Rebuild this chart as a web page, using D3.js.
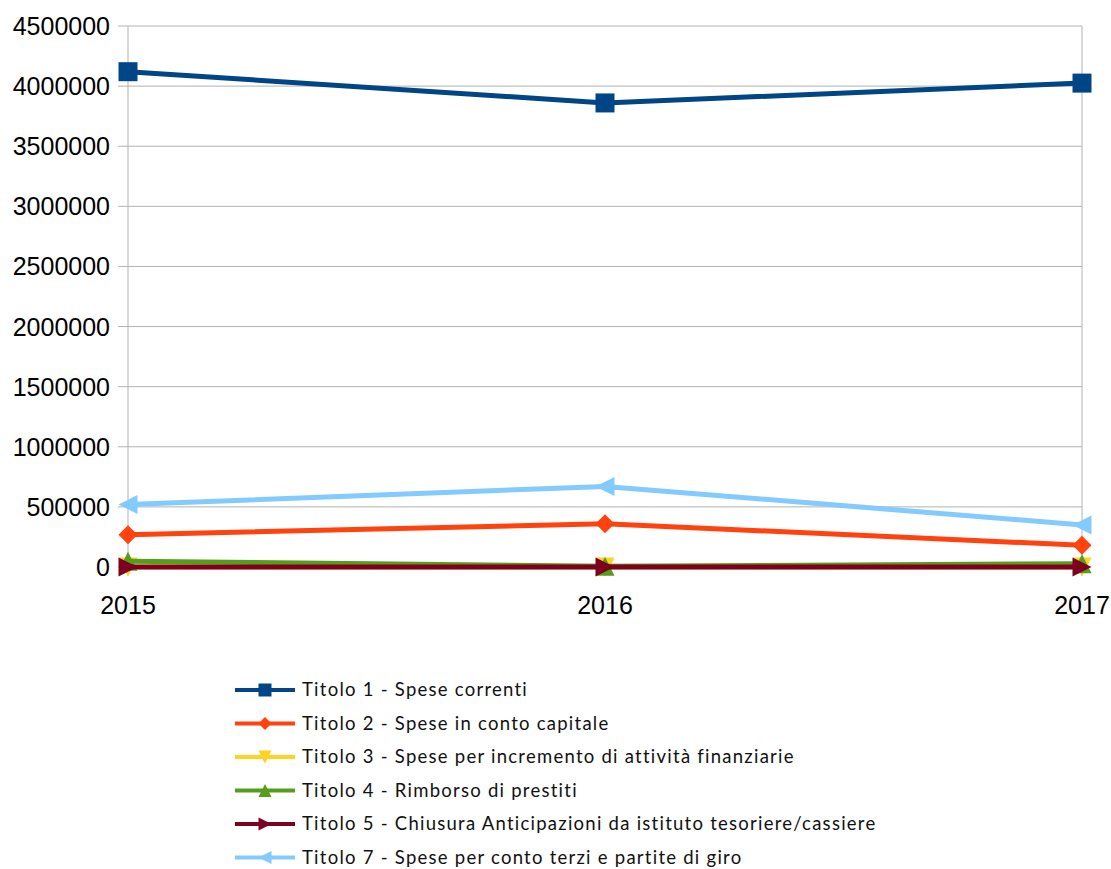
<!DOCTYPE html>
<html><head><meta charset="utf-8">
<script src="https://cdn.jsdelivr.net/npm/d3@7"></script>
<style>body{margin:0;background:#fff}svg{display:block}</style>
</head><body>
<svg id="c" width="1111" height="869"></svg>
<script>
const years = ["2015","2016","2017"];
const yTicks = [0,500000,1000000,1500000,2000000,2500000,3000000,3500000,4000000,4500000];
const seriesNames = [
  "Titolo 1 - Spese correnti",
  "Titolo 2 - Spese in conto capitale",
  "Titolo 3 - Spese per incremento di attività finanziarie",
  "Titolo 4 - Rimborso di prestiti",
  "Titolo 5 - Chiusura Anticipazioni da istituto tesoriere/cassiere",
  "Titolo 7 - Spese per conto terzi e partite di giro"
];
const titolo1 = [4120000, 3860000, 4025000];
const titolo2 = [268000, 360000, 180000];
const titolo3 = [0, 0, 0];
const titolo4 = [48000, 6000, 28000];
const titolo5 = [0, 0, 0];
const titolo7 = [520000, 670000, 350000];
const seriesValues = [titolo1, titolo2, titolo3, titolo4, titolo5, titolo7];
const colors = ["#004586","#ff420e","#ffd320","#579d1c","#7e0021","#83caff"];
const shapes = ["square","diamond","down","up","right","left"];

const svg = d3.select("#c");
const x = d3.scalePoint().domain(years).range([128, 1082]);
const y = d3.scaleLinear().domain([0, 4500000]).range([567, 26]);

// grid
svg.append("g").selectAll("line").data(yTicks).join("line")
  .attr("x1", 118).attr("x2", 1082)
  .attr("y1", d => y(d)).attr("y2", d => y(d))
  .attr("stroke", "#b3b3b3").attr("stroke-width", 1);
// left axis + right border full height, middle category tick short
svg.append("g").selectAll("line").data(years).join("line")
  .attr("x1", d => x(d)).attr("x2", d => x(d))
  .attr("y1", (d, i) => (i === 1 ? y(0) : y(4500000)))
  .attr("y2", y(0) + 9)
  .attr("stroke", "#b3b3b3").attr("stroke-width", 1);

// y labels
svg.append("g").selectAll("text").data(yTicks).join("text")
  .attr("x", 110).attr("y", d => y(d)).attr("dy", "0.36em")
  .attr("text-anchor", "end")
  .attr("font-family", "Liberation Sans, Arial, sans-serif").attr("font-size", 25)
  .text(d => d);
// x labels
svg.append("g").selectAll("text").data(years).join("text")
  .attr("x", d => x(d)).attr("y", 614)
  .attr("text-anchor", "middle")
  .attr("font-family", "Liberation Sans, Arial, sans-serif").attr("font-size", 25)
  .text(d => d);

function markerPath(shape, s) {
  const h = s / 2;
  switch (shape) {
    case "square": return `M${-h},${-h}H${h}V${h}H${-h}Z`;
    case "diamond": return `M0,${-h}L${h},0L0,${h}L${-h},0Z`;
    case "down": return `M${-h},${-h}L${h},${-h}L0,${h}Z`;
    case "up": return `M${-h},${h}L${h},${h}L0,${-h}Z`;
    case "right": return `M${-h},${-h}L${h},0L${-h},${h}Z`;
    case "left": return `M${h},${-h}L${-h},0L${h},${h}Z`;
  }
}
const line = d3.line().x((d, i) => x(years[i])).y(d => y(d));

seriesValues.forEach((vals, si) => {
  const g = svg.append("g");
  g.append("path").datum(vals).attr("d", line)
    .attr("fill", "none").attr("stroke", colors[si]).attr("stroke-width", 5)
    .attr("stroke-linejoin", "round");
  g.selectAll("path.m").data(vals).join("path").attr("class", "m")
    .attr("transform", (d, i) => `translate(${x(years[i])},${y(d)})`)
    .attr("d", markerPath(shapes[si], 19))
    .attr("fill", colors[si]);
});

// legend
const lg = svg.append("g");
seriesNames.forEach((name, i) => {
  const yy = 690 + i * 33.5;
  lg.append("line").attr("x1", 235).attr("x2", 295).attr("y1", yy).attr("y2", yy)
    .attr("stroke", colors[i]).attr("stroke-width", 4);
  lg.append("path").attr("transform", `translate(265,${yy})`)
    .attr("d", markerPath(shapes[i], 13)).attr("fill", colors[i]);
  lg.append("text").attr("x", 302).attr("y", yy).attr("dy", "0.35em")
    .attr("font-family", "Lato, 'Open Sans', sans-serif").attr("font-size", 18.5)
    .attr("letter-spacing", "1.25px")
    .attr("fill", "#111")
    .text(name);
});
</script>
</body></html>
